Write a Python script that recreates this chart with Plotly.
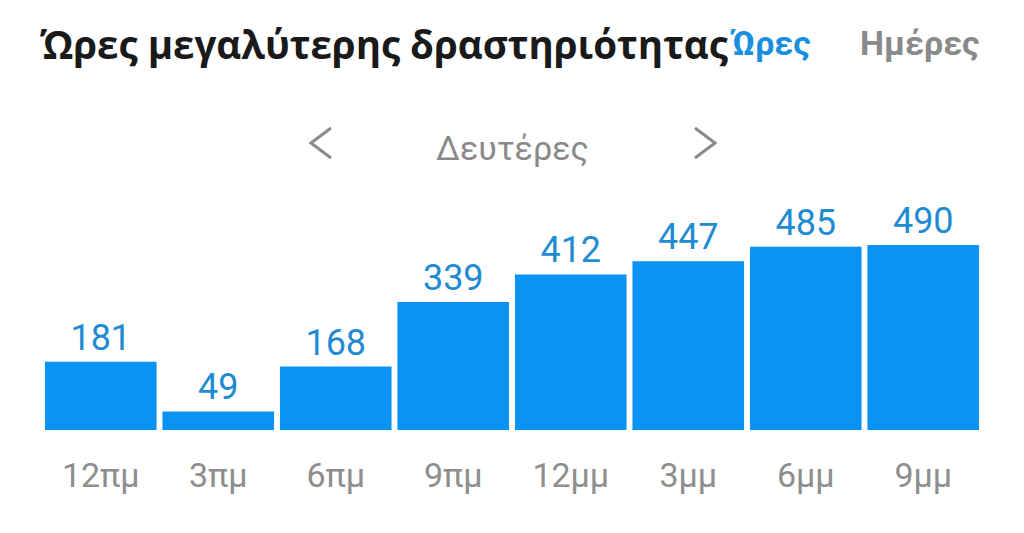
import plotly.graph_objects as go

categories = ["12πμ", "3πμ", "6πμ", "9πμ", "12μμ", "3μμ", "6μμ", "9μμ"]
values = [181, 49, 168, 339, 412, 447, 485, 490]

title_text = "Ώρες μεγαλύτερης δραστηριότητας"
tab_active = "Ώρες"
tab_inactive = "Ημέρες"
day_label = "Δευτέρες"

BAR = "#0a93f2"
LABEL = "#1f8bd2"
GRAY = "#8a8a8a"
FONT = "Roboto"

fig = go.Figure(go.Bar(
    x=categories, y=values,
    marker=dict(color=BAR, line=dict(width=0)),
    text=[str(v) for v in values],
    textposition="outside",
    textfont=dict(family=FONT, size=36, color=LABEL),
    cliponaxis=False,
))

L, R, T, B = 42, 42, 200, 103

def chevron(xp, direction):
    d = 10 * direction
    return dict(type="path", xref="paper", yref="paper",
                xsizemode="pixel", ysizemode="pixel",
                xanchor=xp, yanchor=1.2478,
                path=f"M {d},15 L {-d},0 L {d},-15",
                line=dict(color=GRAY, width=3), fillcolor="rgba(0,0,0,0)")

fig.update_layout(
    width=1024, height=533,
    margin=dict(l=L, r=R, t=T, b=B),
    paper_bgcolor="white", plot_bgcolor="white",
    bargap=0.05,
    showlegend=False,
    xaxis=dict(showgrid=False, zeroline=False, showline=False,
               tickfont=dict(family=FONT, size=34, color="#8e8e8e"),
               ticklabelstandoff=22, ticks=""),
    yaxis=dict(visible=False, range=[0, 609]),
    shapes=[chevron(0.2968, 1), chevron(0.7053, -1)],
    annotations=[
        dict(text=f"<b>{title_text}</b>", xref="paper", yref="paper", x=-0.004, y=1.0,
             xanchor="left", yanchor="middle", yshift=156, showarrow=False,
             font=dict(family="Open Sans", size=38.5, color="#1a1a1a")),
        dict(text=f"<b>{tab_active}</b>", xref="paper", yref="paper", x=0.7755, y=1.0,
             xanchor="center", yanchor="middle", yshift=157, showarrow=False,
             font=dict(family=FONT, size=34, color="#1a8fe0")),
        dict(text=f"<b>{tab_inactive}</b>", xref="paper", yref="paper", x=1.0, y=1.0,
             xanchor="right", yanchor="middle", yshift=157, showarrow=False,
             font=dict(family=FONT, size=34, color=GRAY)),
        dict(text=day_label, xref="paper", yref="paper", x=0.5, y=1.0,
             xanchor="center", yanchor="middle", yshift=52, showarrow=False,
             font=dict(family=FONT, size=34, color=GRAY)),
    ],
)

fig.write_html("out.html")
